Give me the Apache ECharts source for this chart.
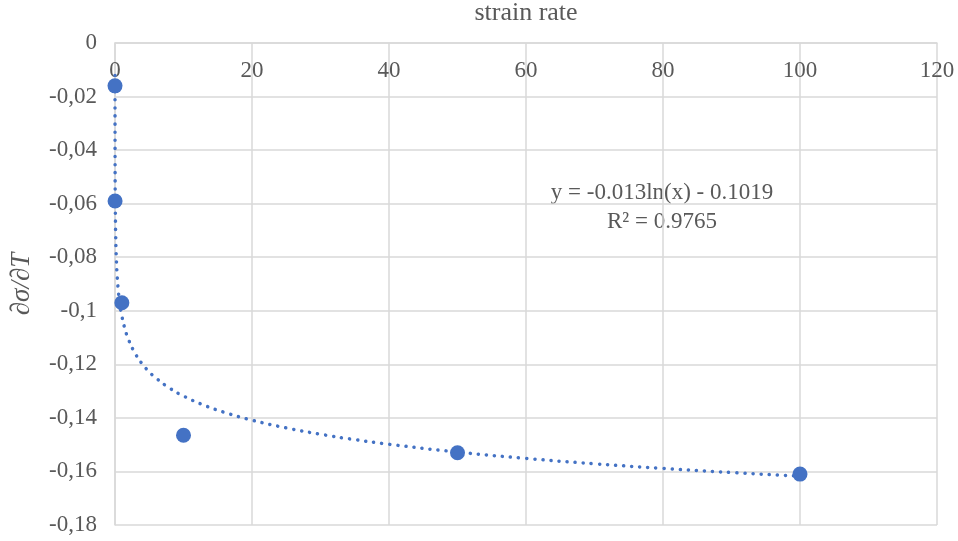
<!DOCTYPE html>
<html>
<head>
<meta charset="utf-8">
<script src="https://cdn.jsdelivr.net/npm/echarts@6/dist/echarts.min.js"></script>
<style>
  html, body { margin: 0; padding: 0; background: #fff; }
  #chart { width: 958px; height: 541px; }
</style>
</head>
<body>
<div id="chart"></div>
<script>
// measured points (strain rate vs dσ/dT)
var strainRate = [0.001, 0.01, 1, 10, 50, 100]
var dSigmaDT = [-0.016, -0.059, -0.097, -0.1465, -0.153, -0.161]

// log trendline as printed on the chart: y = a ln(x) + b
var trendA = -0.013
var trendB = -0.1019
var trendX = [0.001, 0.002, 0.004, 0.007, 0.01, 0.02, 0.04, 0.07, 0.1, 0.15, 0.2, 0.3, 0.5, 0.7, 1,
  1.5, 2, 3, 4, 5, 6, 8, 10, 13, 16, 20, 25, 30, 35, 40, 50, 60, 70, 80, 90, 100]
var trendLabel = ['y = -0.013ln(x) - 0.1019', 'R² = 0.9765']

var xTicks = [0, 20, 40, 60, 80, 100, 120]
var yMin = -0.18
var yMax = 0
var yStep = 0.02

var trendData = trendX.map(function(x) {
  return [x, trendA * Math.log(x) + trendB]
})

var textColor = '#595959'
var gridColor = '#d9d9d9'
var blue = '#4472C4'
var font = '"Liberation Serif", "DejaVu Serif", serif'

var chart = echarts.init(document.getElementById('chart'))
chart.setOption({
  animation: false,
  textStyle: { fontFamily: font },
  grid: { left: 115, right: 21, top: 43, bottom: 16, outerBoundsMode: 'none', containLabel: false },
  xAxis: {
    type: 'value',
    position: 'top',
    min: xTicks[0],
    max: xTicks[xTicks.length - 1],
    interval: 20,
    name: 'strain rate',
    nameLocation: 'middle',
    nameGap: 17,
    nameTextStyle: { color: textColor, fontSize: 26, fontFamily: font },
    axisLine: { show: true, lineStyle: { color: gridColor, width: 1.5 } },
    axisTick: { show: false },
    axisLabel: {
      inside: true,
      margin: 16,
      color: textColor,
      fontSize: 23,
      fontFamily: font
    },
    splitLine: { show: true, lineStyle: { color: gridColor, width: 1.5 } }
  },
  yAxis: {
    type: 'value',
    min: yMin,
    max: yMax,
    interval: yStep,
    name: '∂σ/∂T',
    nameLocation: 'middle',
    nameGap: 80,
    nameTextStyle: { color: textColor, fontSize: 27, fontStyle: 'italic', fontFamily: font },
    axisLine: { show: true, lineStyle: { color: gridColor, width: 1.5 } },
    axisTick: { show: false },
    axisLabel: {
      margin: 18,
      color: textColor,
      fontSize: 23,
      fontFamily: font,
      formatter: function(v) {
        // excel "general" style: no trailing zeros, comma decimal
        var r = Math.round(v * 100) / 100
        if (r === 0) return '0'
        return String(r).replace('.', ',')
      }
    },
    splitLine: { show: true, lineStyle: { color: gridColor, width: 1.5 } }
  },
  series: [
    {
      name: 'trend',
      type: 'line',
      data: trendData,
      showSymbol: false,
      smooth: true,
      z: 2,
      lineStyle: { color: blue, width: 3.5, type: [0.1, 8], cap: 'round' }
    },
    {
      name: 'data',
      type: 'scatter',
      data: strainRate.map(function(x, i) { return [x, dSigmaDT[i]] }),
      symbol: 'circle',
      symbolSize: 15,
      z: 3,
      itemStyle: { color: blue, opacity: 1 }
    }
  ],
  graphic: trendLabel.map(function(t, i) {
    return {
      type: 'text',
      x: 662,
      y: 193 + i * 29,
      style: {
        text: t,
        fill: textColor,
        font: '23px ' + font,
        align: 'center',
        verticalAlign: 'middle'
      }
    }
  })
})
</script>
</body>
</html>
